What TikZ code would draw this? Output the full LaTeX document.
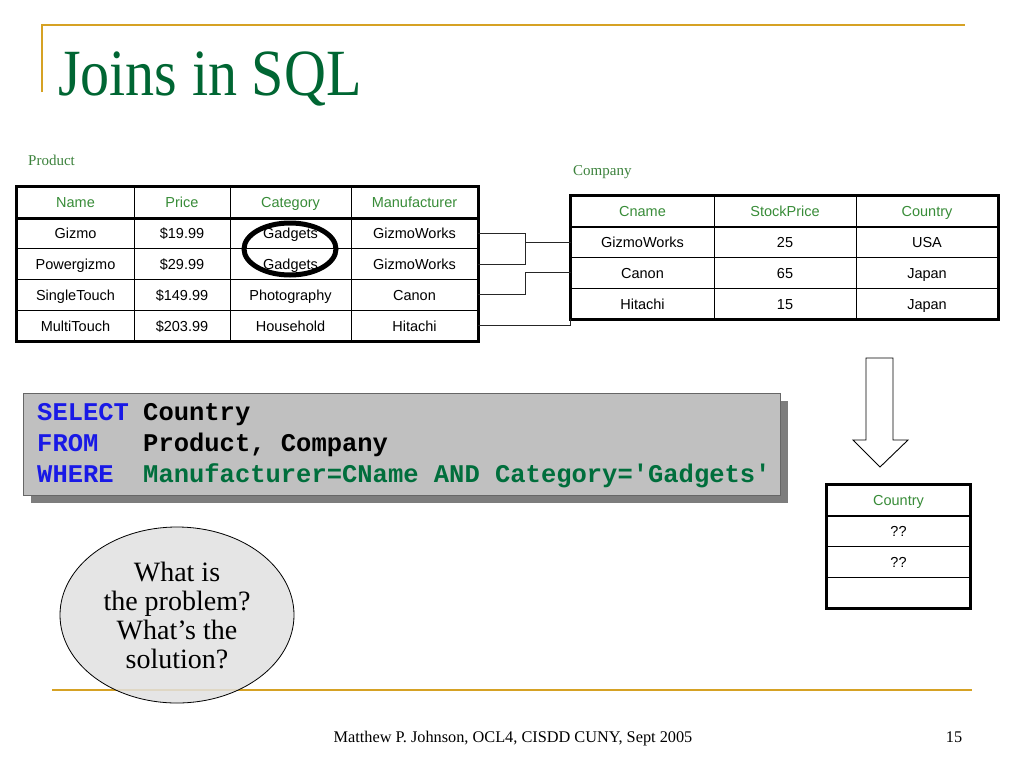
\documentclass[tikz,border=0pt]{standalone}
\usepackage{fontspec}
\setmainfont{Liberation Serif}
\newfontfamily\tabfont{Liberation Sans}
\newfontfamily\sqlfont{Liberation Mono}
\usetikzlibrary{shapes.geometric,calc}
\definecolor{gold}{RGB}{214,162,36}
\definecolor{titlegreen}{RGB}{0,102,51}
\definecolor{labelgreen}{RGB}{60,130,60}
\definecolor{hdrgreen}{RGB}{56,140,56}
\definecolor{kwblue}{RGB}{25,25,230}
\definecolor{sqlgreen}{RGB}{0,110,60}
\definecolor{boxgray}{RGB}{192,192,192}
\definecolor{shadowgray}{RGB}{125,125,125}
\definecolor{bubblegray}{RGB}{225,225,225}
\begin{document}
\begin{tikzpicture}[x=1pt,y=-1pt,
  cell/.style={draw, line width=0.8pt, inner sep=0pt, text height=13pt, text depth=2pt, font=\tabfont\fontsize{14.5}{16}\selectfont},
  prow/.style={cell, minimum height=30.8pt},
  crow/.style={cell, minimum height=30.75pt},
  hdr/.style={text=hdrgreen},
  thick border/.style={line width=2.6pt},
  conn/.style={line width=0.9pt, draw=black!85},
  sqlkw/.style={anchor=base west, inner sep=0pt, text=kwblue, font=\sqlfont\bfseries\fontsize{25.5}{28}\selectfont},
  sqltx/.style={anchor=base west, inner sep=0pt, font=\sqlfont\bfseries\fontsize{25.5}{28}\selectfont},
  lbl/.style={anchor=base west, inner sep=0pt, text=labelgreen, font=\fontsize{15}{17}\selectfont}]
\useasboundingbox[fill=white] (0,0) rectangle (1024,768);

% title frame
\draw[gold, line width=2.2pt] (42,92) -- (42,25) -- (965,25);
\node[anchor=base west, inner sep=0pt, text=titlegreen, font=\fontsize{66}{72}\selectfont, xscale=0.88] (title) at (58,95) {Joins in SQL};

% labels
\node[lbl] (plabel) at (28,165) {Product};
\node[lbl] (clabel) at (573,175) {Company};

% Product table
\node[prow, hdr, minimum width=117pt] (p00) at (75.5,202.4) {Name};
\node[prow, hdr, minimum width=96pt]  (p01) at (182,202.4) {Price};
\node[prow, hdr, minimum width=121pt] (p02) at (290.5,202.4) {Category};
\node[prow, hdr, minimum width=127pt] (p03) at (414.5,202.4) {Manufacturer};
\node[prow, minimum width=117pt] (p10) at (75.5,233.2) {Gizmo};
\node[prow, minimum width=96pt]  (p11) at (182,233.2) {\$19.99};
\node[prow, minimum width=121pt] (p12) at (290.5,233.2) {Gadgets};
\node[prow, minimum width=127pt] (p13) at (414.5,233.2) {GizmoWorks};
\node[prow, minimum width=117pt] (p20) at (75.5,264) {Powergizmo};
\node[prow, minimum width=96pt]  (p21) at (182,264) {\$29.99};
\node[prow, minimum width=121pt] (p22) at (290.5,264) {Gadgets};
\node[prow, minimum width=127pt] (p23) at (414.5,264) {GizmoWorks};
\node[prow, minimum width=117pt] (p30) at (75.5,294.8) {SingleTouch};
\node[prow, minimum width=96pt]  (p31) at (182,294.8) {\$149.99};
\node[prow, minimum width=121pt] (p32) at (290.5,294.8) {Photography};
\node[prow, minimum width=127pt] (p33) at (414.5,294.8) {Canon};
\node[prow, minimum width=117pt] (p40) at (75.5,325.6) {MultiTouch};
\node[prow, minimum width=96pt]  (p41) at (182,325.6) {\$203.99};
\node[prow, minimum width=121pt] (p42) at (290.5,325.6) {Household};
\node[prow, minimum width=127pt] (p43) at (414.5,325.6) {Hitachi};
\draw[thick border] (p00.north west) rectangle (p43.south east);
\draw[thick border] (p00.south west) -- (p03.south east);

% circle around Gadgets
\node[draw, ellipse, line width=5pt, minimum width=92pt, minimum height=52pt] (circ) at (290,249) {};

% Company table
\node[crow, hdr, minimum width=143pt] (c00) at (642.5,211.4) {Cname};
\node[crow, hdr, minimum width=142pt] (c01) at (785,211.4) {StockPrice};
\node[crow, hdr, minimum width=142pt] (c02) at (927,211.4) {Country};
\node[crow, minimum width=143pt] (c10) at (642.5,242.1) {GizmoWorks};
\node[crow, minimum width=142pt] (c11) at (785,242.1) {25};
\node[crow, minimum width=142pt] (c12) at (927,242.1) {USA};
\node[crow, minimum width=143pt] (c20) at (642.5,272.9) {Canon};
\node[crow, minimum width=142pt] (c21) at (785,272.9) {65};
\node[crow, minimum width=142pt] (c22) at (927,272.9) {Japan};
\node[crow, minimum width=143pt] (c30) at (642.5,303.6) {Hitachi};
\node[crow, minimum width=142pt] (c31) at (785,303.6) {15};
\node[crow, minimum width=142pt] (c32) at (927,303.6) {Japan};
\draw[thick border] (c00.north west) rectangle (c32.south east);
\draw[thick border] (c00.south west) -- (c02.south east);

% connectors
\coordinate (jx) at (525,0);
\draw[conn] (p13.east) -| (jx |- p23.east) -- (p23.east);
\draw[conn] (jx |- c10.west) -- (c10.west);
\draw[conn] (p33.east) -| (jx |- c20.west) -- (c20.west);
\draw[conn] (p43.east) -| (c30.south west);

% down arrow
\draw[line width=0.9pt, fill=white] (866,358) -- (893,358) -- (893,440) -- (908,440) -- (880,467) -- (853,440) -- (866,440) -- cycle;

% result table
\node[crow, hdr, minimum width=143pt] (r0) at (898.5,500.4) {Country};
\node[crow, minimum width=143pt] (r1) at (898.5,531.1) {??};
\node[crow, minimum width=143pt] (r2) at (898.5,561.9) {??};
\node[crow, minimum width=143pt] (r3) at (898.5,592.6) {};
\draw[thick border] (r0.north west) rectangle (r3.south east);
\draw[thick border] (r0.south west) -- (r0.south east);

% SQL box
\fill[shadowgray] (31,401) rectangle (788,503);
\draw[fill=boxgray, draw=black!60, line width=0.8pt] (23,393) rectangle (780,495);
\node[sqlkw] (k1) at (37,420) {SELECT};
\node[sqltx] (t1) at (143,420) {Country};
\node[sqlkw] (k2) at (37,451) {FROM};
\node[sqltx] (t2) at (143,451) {Product, Company};
\node[sqlkw] (k3) at (37,482) {WHERE};
\node[sqltx, text=sqlgreen] (t3) at (143,482) {Manufacturer=CName AND Category='Gadgets'};

% bottom rule and bubble
\draw[gold, line width=2.2pt] (52,690) -- (972,690);
\node[draw, ellipse, line width=0.8pt, fill=bubblegray, fill opacity=0.85, minimum width=234pt, minimum height=176pt] (bubble) at (177,615) {};
\node[align=center, font=\fontsize{28}{29}\selectfont, inner sep=0pt] (btext) at (177,615) {What is\\the problem?\\What’s the\\solution?};

% footer
\node[anchor=base, inner sep=0pt, font=\fontsize{16.3}{18}\selectfont] (footer) at (513,742) {Matthew P. Johnson, OCL4, CISDD CUNY, Sept 2005};
\node[anchor=base, inner sep=0pt, font=\fontsize{16.3}{18}\selectfont] (pageno) at (954,742) {15};
\end{tikzpicture}
\end{document}
